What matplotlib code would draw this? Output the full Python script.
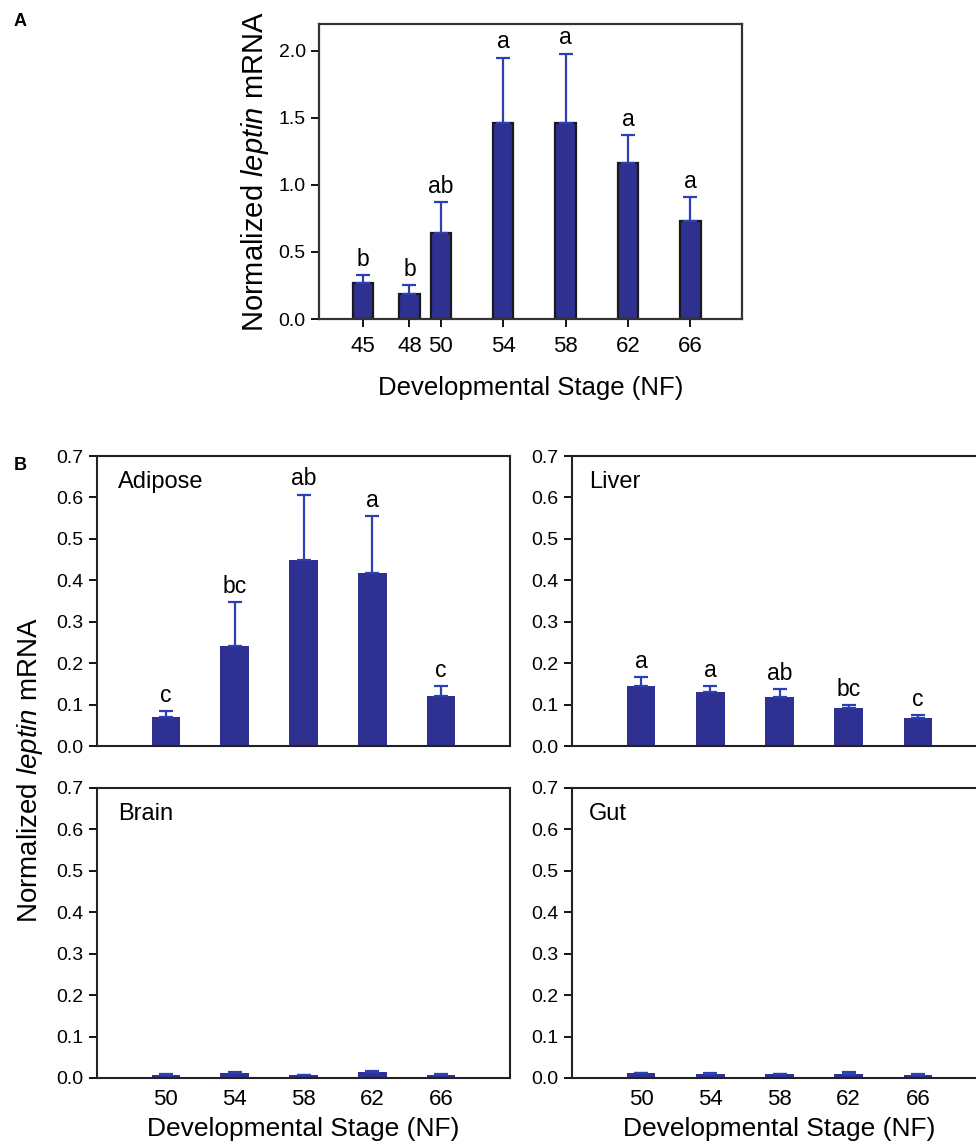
import numpy as np
import matplotlib
matplotlib.use('Agg')
import matplotlib.pyplot as plt

plt.rcParams['font.family'] = ['Liberation Sans', 'DejaVu Sans']
plt.rcParams['mathtext.fontset'] = 'custom'
plt.rcParams['mathtext.rm'] = 'Liberation Sans'
plt.rcParams['mathtext.it'] = 'Liberation Sans:italic'

# panel A: whole animal
stagesA = [45, 48, 50, 54, 58, 62, 66]
meanA = [0.27, 0.19, 0.64, 1.46, 1.46, 1.16, 0.73]
errA = [0.06, 0.06, 0.23, 0.49, 0.52, 0.21, 0.18]
lettersA = ['b', 'b', 'ab', 'a', 'a', 'a', 'a']

# panel B: tissues
stagesB = [50, 54, 58, 62, 66]
adipose = [0.071, 0.241, 0.450, 0.418, 0.121]
adipose_err = [0.014, 0.107, 0.157, 0.137, 0.024]
adipose_letters = ['c', 'bc', 'ab', 'a', 'c']
liver = [0.145, 0.131, 0.119, 0.091, 0.067]
liver_err = [0.021, 0.014, 0.018, 0.008, 0.008]
liver_letters = ['a', 'a', 'ab', 'bc', 'c']
brain = [0.008, 0.013, 0.006, 0.014, 0.008]
brain_err = [0.002, 0.002, 0.001, 0.004, 0.002]
gut = [0.011, 0.010, 0.009, 0.010, 0.008]
gut_err = [0.002, 0.002, 0.001, 0.005, 0.001]

barcol = '#2e3192'
errcol = '#2b40b5'

fig = plt.figure(figsize=(9.76, 11.43), dpi=100)

def add_letters(ax, x, tops, letters, size=16.5):
    for xi, t, l in zip(x, tops, letters):
        ax.annotate(l, (xi, t), xytext=(0, 3), textcoords='offset points',
                    ha='center', va='bottom', fontsize=size)

# ---- panel A
axA = fig.add_axes([0.3268, 0.7209, 0.4334, 0.2581])
axA.bar(stagesA, meanA, width=1.3, color=barcol, edgecolor='#1a1a1a', linewidth=1.6)
axA.errorbar(stagesA, meanA, yerr=[np.zeros(len(errA)), errA], fmt='none',
             ecolor=errcol, elinewidth=1.6, capsize=5, capthick=1.6)
add_letters(axA, stagesA, np.array(meanA) + np.array(errA), lettersA)
axA.set_xlim(42.2, 69.3)
axA.set_ylim(0, 2.2)
axA.set_xticks(stagesA)
axA.set_yticks([0.0, 0.5, 1.0, 1.5, 2.0])
axA.set_yticklabels(['0.0', '0.5', '1.0', '1.5', '2.0'])
axA.tick_params(axis='x', labelsize=16, direction='out', length=6, width=1.3, pad=6)
axA.tick_params(axis='y', labelsize=14, direction='out', length=6, width=1.3)
for s in axA.spines.values():
    s.set_linewidth(1.6)
    s.set_color('#333333')
axA.set_xlabel('Developmental Stage (NF)', fontsize=18.5, labelpad=14)
fig.text(255 / 976, 1 - 172 / 1143, 'Normalized $\\mathit{leptin}$ mRNA', rotation=90,
         ha='center', va='center', fontsize=21)
fig.text(14 / 976, 1 - 22 / 1143, 'A', fontsize=13, fontweight='bold', va='center')

# ---- panel B
w = 0.4232
h = 0.2537
boxes = {
    'Adipose': [0.0994, 0.3473, w, h],
    'Liver': [0.5861, 0.3473, 0.4252, h],
    'Brain': [0.0994, 0.0569, w, h],
    'Gut': [0.5861, 0.0569, 0.4252, h],
}
data = {
    'Adipose': (adipose, adipose_err, adipose_letters),
    'Liver': (liver, liver_err, liver_letters),
    'Brain': (brain, brain_err, None),
    'Gut': (gut, gut_err, None),
}
for name in ['Adipose', 'Liver', 'Brain', 'Gut']:
    ax = fig.add_axes(boxes[name])
    vals, err, letters = data[name]
    ax.bar(stagesB, vals, width=1.65, color=barcol, edgecolor='none')
    ax.errorbar(stagesB, vals, yerr=[np.zeros(len(err)), err], fmt='none',
                ecolor=errcol, elinewidth=1.6, capsize=5, capthick=1.6)
    if letters is not None:
        add_letters(ax, stagesB, np.array(vals) + np.array(err), letters)
    ax.set_xlim(46, 70)
    ax.set_ylim(0, 0.7)
    ax.set_yticks(np.arange(0, 0.71, 0.1))
    ax.set_yticklabels(['%.1f' % v for v in np.arange(0, 0.71, 0.1)])
    ax.set_xticks(stagesB)
    ax.tick_params(axis='y', labelsize=14, direction='out', length=6, width=1.3)
    if name in ['Brain', 'Gut']:
        ax.tick_params(axis='x', labelsize=16, length=0, pad=8)
        ax.set_xlabel('Developmental Stage (NF)', fontsize=19, labelpad=5)
    else:
        ax.tick_params(axis='x', length=0, labelbottom=False)
    for s in ax.spines.values():
        s.set_linewidth(1.5)
        s.set_color('#222222')
    ax.text(0.05 if name in ['Adipose', 'Brain'] else 0.04, 0.91, name,
            transform=ax.transAxes, fontsize=17, ha='left', va='center')

fig.text(30 / 976, 1 - 770 / 1143, 'Normalized $\\mathit{leptin}$ mRNA', rotation=90,
         ha='center', va='center', fontsize=20)
fig.text(14 / 976, 1 - 465 / 1143, 'B', fontsize=13, fontweight='bold', va='center')

fig.savefig('out.png', dpi=100)
